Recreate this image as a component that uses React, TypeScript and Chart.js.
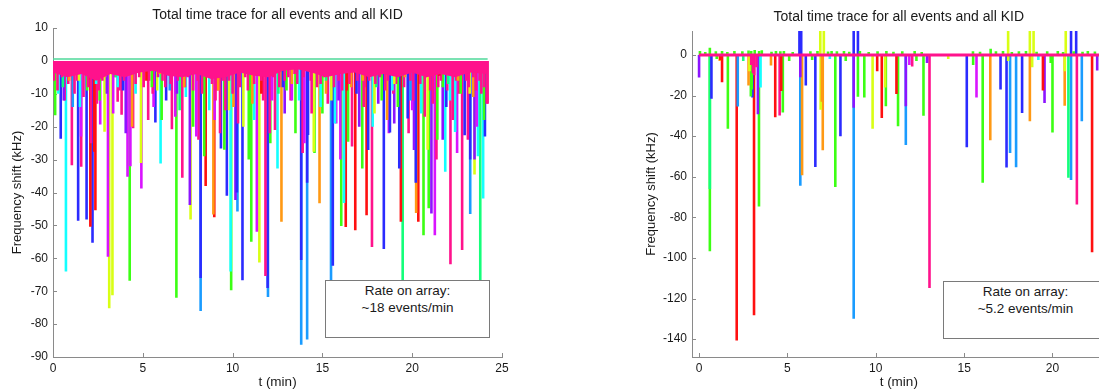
import React, { useEffect, useRef } from 'react';
import { Chart, registerables } from 'chart.js';

Chart.register(...registerables);

type Pair = [number, number];

// ---------- axis ticks & texts ----------
const leftXTicks = [0, 5, 10, 15, 20, 25];
const leftYTicks = [10, 0, -10, -20, -30, -40, -50, -60, -70, -80, -90];
const rightXTicks = [0, 5, 10, 15, 20];
const rightYTicks = [0, -20, -40, -60, -80, -100, -120, -140];

const titleText = 'Total time trace for all events and all KID';
const xLabel = 't (min)';
const yLabel = 'Frequency shift (kHz)';
const leftBoxLines = ['Rate on array:', '~18 events/min'];
const rightBoxLines = ['Rate on array:', '~5.2 events/min'];

// ---------- left panel: [t (min), shift (kHz)] ----------
const leftRed: Pair[] = [[2.08,-50.4],[2.3,-27.6],[2.36,-45.4],[5.2,-6],[8.5,-38],[8.98,-47.5],[11.6,-10],[14.6,-3.5],[16.3,-50.5],[16.36,-9],[16.83,-51.5],[17.46,-46.9],[18.5,-4],[19.37,-48.9],[20.34,-48.9],[21.5,-4.5]];
const leftOrange: Pair[] = [[0.9,-6],[2.9,-5],[4.4,-20],[5.95,-4],[7.3,-8],[8.93,-46.7],[9.2,-9],[10.05,-14],[11.1,-13],[12.72,-48.9],[13.3,-7],[14.84,-43.3],[15.2,-10],[16.6,-8],[17.25,-6],[18.6,-18],[19.6,-5],[20.22,-46.2],[20.9,-3],[22.55,-6],[23.4,-11]];
const leftYellow: Pair[] = [[1.45,-6],[2.87,-21.5],[3.13,-75.2],[3.31,-71.2],[4.9,-31],[5.8,-9],[7.66,-48.2],[9.8,-15],[10.6,-20],[11.49,-61.3],[14.52,-27.6],[15.5,-12],[17.9,-16],[19.0,-7],[20.86,-27],[23.2,-10],[23.47,-34.5]];
const leftGreen: Pair[] = [[0.12,-16.5],[1.9,-9],[2.6,-12],[4.27,-66.8],[5.5,-8],[6.05,-18],[6.87,-72],[7.8,-20],[8.42,-29],[9.54,-27],[9.92,-69.7],[10.9,-30],[11.04,-55],[12.1,-25],[13.0,-9],[13.5,-22],[14.56,-28],[15.0,-16],[16.05,-50.2],[16.43,-24.6],[17.22,-32.7],[18.3,-12],[19.2,-14],[20.63,-53],[20.92,-44.8],[21.4,-24],[21.7,-8],[22.7,-10],[24.0,-18]];
const leftSpring: Pair[] = [[0.55,-8],[3.5,-5],[7.05,-15],[12.55,-10],[15.2,-6],[18.0,-8],[19.47,-80],[22.0,-7],[23.79,-75]];
const leftCyan: Pair[] = [[0.3,-10],[0.72,-64],[1.5,-14],[2.4,-7],[3.6,-8],[4.6,-10],[5.99,-31.2],[7.4,-11],[8.7,-15],[9.89,-64],[11.2,-18],[12.5,-32.7],[13.7,-12],[14.9,-14],[15.7,-19],[16.2,-43.2],[17.8,-20],[18.9,-9],[20.5,-16],[21.84,-33.7],[22.1,-12],[22.39,-21.6],[23.66,-29],[23.95,-41.8]];
const leftAzure: Pair[] = [[1.1,-14],[6.5,-9],[8.22,-76],[10.27,-45.8],[11.97,-71.8],[13.82,-86.3],[14.15,-84.7],[15.48,-66.8],[19.9,-12],[23.23,-46.5]];
const leftBlue: Pair[] = [[0.43,-23.7],[1.4,-48.6],[1.87,-48.2],[2.2,-55.3],[3.9,-9],[5.7,-18.7],[6.3,-12],[8.22,-66],[9.35,-26.6],[9.68,-41],[10.24,-40],[10.55,-66.7],[11.95,-69],[12.8,-8],[13.82,-60.5],[14.15,-37],[14.2,-22.5],[15.58,-62.3],[16.9,-10],[17.55,-27.1],[18.42,-57.2],[18.76,-21.8],[19.28,-32.7],[19.75,-17.5],[20.2,-37],[21.9,-14],[22.92,-22.6],[23.23,-30],[24.05,-23]];
const leftPurple: Pair[] = [[0.6,-12],[3.0,-10],[4.05,-22],[6.9,-10],[7.62,-43.8],[10.16,-42.3],[12.9,-16],[15.9,-12],[17.05,-20],[18.11,-13],[19.0,-19],[20.1,-27.1],[21.07,-46.4],[21.7,-24],[23.47,-30]];
const leftMagenta: Pair[] = [[1.56,-23],[2.63,-19.3],[3.06,-59.5],[3.35,-16],[4.15,-35.2],[4.31,-32],[4.92,-38.8],[5.6,-14],[6.81,-17],[7.98,-23],[9.0,-18],[11.35,-51.9],[12.2,-12],[13.3,-12],[14.0,-25],[15.77,-19],[16.0,-30],[18.7,-22],[20.0,-15],[21.26,-53],[22.5,-28],[23.6,-20]];
const leftPink: Pair[] = [[1.05,-31.7],[1.57,-32.2],[2.12,-25],[3.6,-12.4],[3.82,-16.4],[4.46,-20.5],[5.3,-18],[6.25,-8],[6.62,-20.8],[7.2,-35.5],[8.1,-24],[9.3,-22],[10.3,-19],[11.83,-65.4],[12.07,-22],[12.36,-21],[13.23,-12],[13.9,-28],[14.4,-16],[14.7,-8],[16.65,-26],[17.3,-14],[17.76,-56.6],[19.8,-22],[20.7,-17],[21.35,-30],[22.13,-61.8],[22.26,-18],[22.78,-57.5],[23.1,-24],[23.85,-10],[24.15,-13]];
const leftPinkShallow: Pair[] = [[0.05,-6],[0.25,-9],[0.5,-5],[0.65,-12],[0.85,-7],[1.2,-10],[1.35,-6],[1.7,-11],[1.95,-8],[2.45,-13],[2.55,-9],[2.75,-6],[3.45,-5],[3.7,-9],[3.95,-6],[4.1,-4],[4.6,-7],[4.8,-5],[5.05,-8],[5.35,-6],[5.55,-10],[5.85,-5],[6.1,-6],[6.4,-4],[6.55,-7],[6.95,-6],[7.35,-8],[7.5,-5],[7.8,-9],[8.05,-6],[8.3,-10],[8.65,-5],[8.85,-7],[9.05,-12],[9.15,-9],[9.45,-6],[9.6,-15],[9.8,-6],[10.0,-10],[10.4,-8],[10.7,-5],[10.85,-9],[11.2,-7],[11.6,-6],[11.7,-12],[12.25,-5],[12.6,-8],[12.9,-6],[13.1,-5],[13.45,-4],[13.6,-7],[13.95,-5],[14.35,-6],[14.9,-7],[15.1,-5],[15.3,-13],[15.65,-8],[15.9,-6],[16.1,-9],[16.5,-7],[16.95,-6],[17.1,-4],[17.35,-8],[17.6,-6],[17.95,-7],[18.2,-5],[18.5,-9],[18.65,-6],[18.95,-10],[19.1,-7],[19.55,-8],[19.9,-6],[20.05,-12],[20.45,-7],[20.75,-5],[21.0,-9],[21.15,-13],[21.45,-8],[21.6,-6],[21.95,-9],[22.45,-6],[22.6,-10],[23.0,-6],[23.15,-8],[23.4,-5],[23.55,-9],[23.75,-6],[24.0,-8],[24.2,-13]];
const leftPinkBand: Pair[] = [[0,-3.5],[0.8,-5],[1.6,-4],[2.4,-6],[3.2,-4],[4.0,-5],[4.8,-3.5],[5.6,-3],[6.4,-4.5],[7.2,-5],[8.0,-4],[8.8,-5.5],[9.6,-5],[10.4,-3.5],[11.2,-4.5],[12.0,-5],[12.8,-3],[13.6,-2.5],[14.4,-3.5],[15.2,-5],[16.0,-4],[16.8,-3.5],[17.6,-5],[18.4,-4],[19.2,-5],[20.0,-3.5],[20.8,-5],[21.6,-4],[22.4,-5],[23.2,-3.5],[24.2,-4]];
const leftNoise: Pair[] = [[0,0.6],[24.2,0.6]];

// ---------- right panel ----------
const rightRed: Pair[] = [[1.2,-2.5],[1.3,-13.4],[2.13,-140.7],[3.11,-128.2],[4.31,-30.7],[4.65,-17.7],[10.08,-8],[10.34,-31],[11.17,-19.2],[19.46,-17.5],[22.24,-97.2]];
const rightOrange: Pair[] = [[1.17,-3],[2.8,-15],[4.07,-5.2],[5.83,-59.3],[6.95,-23],[7.0,-47],[16.48,-42],[18.72,-32.6],[20.69,-25]];
const rightYellow: Pair[] = [[2.85,-8],[6.88,-27],[9.82,-36.4],[10.53,-16],[14.1,-2],[17.49,-3],[18.85,-6],[20.7,-8]];
const rightGreen: Pair[] = [[0.61,-96.7],[1.0,-2],[1.63,-36.4],[2.93,-20.5],[2.98,-17],[3.39,-74.6],[4.74,-28.4],[5.1,-3],[6.4,-2.5],[7.71,-65],[8.3,-3],[8.99,-20.6],[9.35,-21],[10.57,-25.3],[11.26,-35.1],[12.3,-3],[12.7,-30],[15.51,-5],[16.05,-62.9],[19.9,-4],[20.0,-38.2],[22.7,-3]];
const rightSpring: Pair[] = [[0.61,-66],[2.5,-3],[20.9,-60.5]];
const rightCyan: Pair[] = [[3.48,-16],[7.4,-2],[19.2,-2.5]];
const rightAzure: Pair[] = [[2.19,-25.4],[5.73,-64.4],[8.75,-130],[11.7,-44.4],[17.6,-48.3],[17.94,-55.3],[21.05,-61.6],[21.66,-32.7]];
const rightBlue: Pair[] = [[0.7,-21.6],[3.02,-21],[6.04,-15],[6.58,-55.2],[8.0,-40],[15.15,-45.5],[17.06,-17],[17.4,-55.4],[18.28,-28.6]];
const rightPurple: Pair[] = [[0.0,-11.1],[3.33,-29.2],[5.73,-11],[8.75,-26],[11.7,-25.3],[12.9,-4],[19.55,-23.7],[22.53,-7.6]];
const rightMagenta: Pair[] = [[11.9,-5],[15.7,-21]];
const rightPink: Pair[] = [[2.95,-5],[3.05,-9],[3.12,-10],[3.25,-6],[4.56,-29.8],[12.06,-5.7],[13.04,-114.8],[21.38,-73.7]];
const rightBlueUp: Pair[] = [[5.68,20],[5.78,20],[8.75,20],[8.99,20],[21.05,20],[21.34,20]];
const rightYellowUp: Pair[] = [[6.86,20],[7.06,20],[17.49,20],[18.72,20],[18.93,20],[20.75,20]];
const rightGreenUp: Pair[] = [[0.05,2],[0.35,1.5],[0.61,3.6],[0.95,1.8],[1.3,2],[1.6,1.5],[2.0,2],[2.45,1.8],[2.8,2.2],[2.95,2],[3.15,2.5],[3.4,2],[3.55,2.3],[4.1,1.6],[4.35,2],[4.6,1.8],[4.8,2],[5.3,1.5],[6.3,1.8],[6.7,2],[7.3,1.7],[7.5,2],[7.8,1.8],[8.2,2],[8.5,1.6],[9.1,2],[9.6,1.5],[10.1,1.8],[10.6,2],[11.0,1.6],[11.5,1.8],[12.2,2],[12.6,1.5],[15.5,1.8],[15.9,1.6],[16.5,3],[16.8,1.8],[17.2,2],[17.7,1.5],[18.1,1.8],[18.5,2],[19.1,1.6],[19.7,1.8],[20.3,2],[20.6,1.5],[21.2,1.8],[21.7,1.6],[22.0,2],[22.4,1.7]];
const rightBaseline: Pair[] = [[0,0],[23,0]];

// ---------- styles ----------
const FONT = '"Liberation Sans", Arial, Helvetica, sans-serif';
const TEXT = '#1a1a1a';
const AXIS = '#8a8a8a';
const COL = {
  red: '#ff1010', orange: '#ff9914', yellow: '#d9ff14', green: '#3cff14', spring: '#14ff7a',
  cyan: '#14ffff', azure: '#1a9cff', blue: '#2b2bff', purple: '#8c14ff', magenta: '#d914ff', pink: '#ff128c',
};

function spikeSets(series: [string, Pair[]][], width: number) {
  const out: any[] = [];
  series.forEach(([color, pts]) => {
    pts.forEach(([t, v]) => {
      out.push({
        data: [{ x: t, y: 0 }, { x: t, y: v }],
        borderColor: color,
        backgroundColor: color,
        borderWidth: width,
        pointRadius: 0,
        order: Math.abs(v),
        borderCapStyle: 'butt',
      });
    });
  });
  return out;
}

function lineSet(pts: Pair[], color: string, width: number, order: number, fill = false) {
  return {
    data: pts.map(([x, y]) => ({ x, y })),
    borderColor: color,
    backgroundColor: color,
    borderWidth: width,
    pointRadius: 0,
    order,
    fill: fill ? 'origin' : false,
  };
}

const inwardTicks = {
  id: 'inwardTicks',
  beforeDatasetsDraw(chart: any) {
    const { ctx, chartArea: a, scales } = chart;
    const xs = scales.x;
    const ys = scales.y;
    ctx.save();
    ctx.strokeStyle = AXIS;
    ctx.lineWidth = 1;
    ctx.beginPath();
    xs.ticks.forEach((tk: any) => {
      const p = Math.round(xs.getPixelForValue(tk.value)) + 0.5;
      ctx.moveTo(p, a.bottom);
      ctx.lineTo(p, a.bottom - 4);
    });
    ys.ticks.forEach((tk: any) => {
      const p = Math.round(ys.getPixelForValue(tk.value)) + 0.5;
      ctx.moveTo(a.left, p);
      ctx.lineTo(a.left + 4, p);
    });
    ctx.stroke();
    ctx.restore();
  },
};

type PanelProps = {
  left: number;
  width: number;
  datasets: any[];
  xMin: number; xMax: number; yMin: number; yMax: number;
  xTicks: number[]; yTicks: number[];
  yAxisWidth: number; padRight: number;
  titleTop: number; titleBottom: number;
  yTitlePad: number;
};

function Panel(p: PanelProps) {
  const ref = useRef<HTMLCanvasElement>(null);
  useEffect(() => {
    const chart = new Chart(ref.current as HTMLCanvasElement, {
      type: 'line',
      data: { datasets: p.datasets },
      plugins: [inwardTicks],
      options: {
        animation: false,
        responsive: false,
        maintainAspectRatio: false,
        events: [],
        layout: { padding: { left: 0, right: p.padRight, top: 0, bottom: 0 }, autoPadding: false },
        plugins: {
          legend: { display: false },
          tooltip: { enabled: false },
          title: {
            display: true,
            text: titleText,
            fullSize: false,
            color: TEXT,
            font: { family: FONT, size: 14, weight: 'normal' },
            padding: { top: p.titleTop, bottom: p.titleBottom },
          },
        },
        scales: {
          x: {
            type: 'linear',
            min: p.xMin,
            max: p.xMax,
            afterBuildTicks: (s: any) => { s.ticks = p.xTicks.map((value) => ({ value })); },
            afterFit: (s: any) => { s.height = 35; },
            ticks: { font: { family: FONT, size: 12 }, color: TEXT, padding: 4, maxRotation: 0, autoSkip: false },
            grid: { drawOnChartArea: false, drawTicks: false },
            border: { color: AXIS, width: 1 },
            title: { display: true, text: xLabel, color: TEXT, font: { family: FONT, size: 13.5 }, padding: { top: 0, bottom: 1.3 } },
          },
          y: {
            type: 'linear',
            min: p.yMin,
            max: p.yMax,
            afterBuildTicks: (s: any) => { s.ticks = p.yTicks.map((value) => ({ value })); },
            afterFit: (s: any) => { s.width = p.yAxisWidth; },
            ticks: { font: { family: FONT, size: 12 }, color: TEXT, padding: 5, autoSkip: false },
            grid: { drawOnChartArea: false, drawTicks: false },
            border: { color: AXIS, width: 1 },
            title: { display: true, text: yLabel, color: TEXT, font: { family: FONT, size: 13 }, padding: { top: p.yTitlePad, bottom: 0 } },
          },
        },
      } as any,
    });
    return () => chart.destroy();
  }, []);
  return (
    <canvas
      ref={ref}
      width={p.width}
      height={392}
      style={{ position: 'absolute', left: p.left, top: 0, width: p.width, height: 392 }}
    />
  );
}

function RateBox({ left, top, width, lines }: { left: number; top: number; width: number; lines: string[] }) {
  return (
    <div
      style={{
        position: 'absolute', left, top, width, height: 55,
        border: '1px solid #7a7a7a', background: '#fff', boxSizing: 'content-box',
        fontFamily: FONT, fontSize: 13.5, color: TEXT, textAlign: 'center',
        lineHeight: '17px', paddingTop: 1,
      }}
    >
      {lines.map((l) => (<div key={l}>{l}</div>))}
    </div>
  );
}

export default function App() {
  const leftSets = [
    lineSet(leftPinkBand, COL.pink, 0, -20, true),
    lineSet(leftNoise, '#4fd99a', 1.5, 1),
    ...spikeSets([
      [COL.red, leftRed], [COL.orange, leftOrange], [COL.yellow, leftYellow], [COL.green, leftGreen],
      [COL.spring, leftSpring], [COL.cyan, leftCyan], [COL.azure, leftAzure], [COL.blue, leftBlue],
      [COL.purple, leftPurple], [COL.magenta, leftMagenta], [COL.pink, leftPink], [COL.pink, leftPinkShallow],
    ], 2.6),
  ];
  const rightSets = [
    lineSet(rightBaseline, COL.pink, 3, -20),
    ...spikeSets([
      [COL.red, rightRed], [COL.orange, rightOrange], [COL.yellow, rightYellow], [COL.green, rightGreen],
      [COL.spring, rightSpring], [COL.cyan, rightCyan], [COL.azure, rightAzure], [COL.blue, rightBlue],
      [COL.purple, rightPurple], [COL.magenta, rightMagenta], [COL.pink, rightPink],
      [COL.blue, rightBlueUp], [COL.yellow, rightYellowUp], [COL.green, rightGreenUp],
    ], 2.6),
  ];
  return (
    <div style={{ position: 'absolute', left: 0, top: 0, width: 1099, height: 392, overflow: 'hidden', background: '#fff' }}>
      <Panel
        left={0} width={550} datasets={leftSets}
        xMin={0} xMax={25} yMin={-90} yMax={10}
        xTicks={leftXTicks} yTicks={leftYTicks}
        yAxisWidth={53} padRight={48} titleTop={6.6} titleBottom={4.6} yTitlePad={9.7}
      />
      <Panel
        left={550} width={570} datasets={rightSets}
        xMin={-0.4} xMax={23} yMin={-148.8} yMax={11.8}
        xTicks={rightXTicks} yTicks={rightYTicks}
        yAxisWidth={142} padRight={14.5} titleTop={8.9} titleBottom={5.3} yTitlePad={93.7}
      />
      <RateBox left={325} top={280} width={163} lines={leftBoxLines} />
      <RateBox left={943} top={281} width={163} lines={rightBoxLines} />
    </div>
  );
}
